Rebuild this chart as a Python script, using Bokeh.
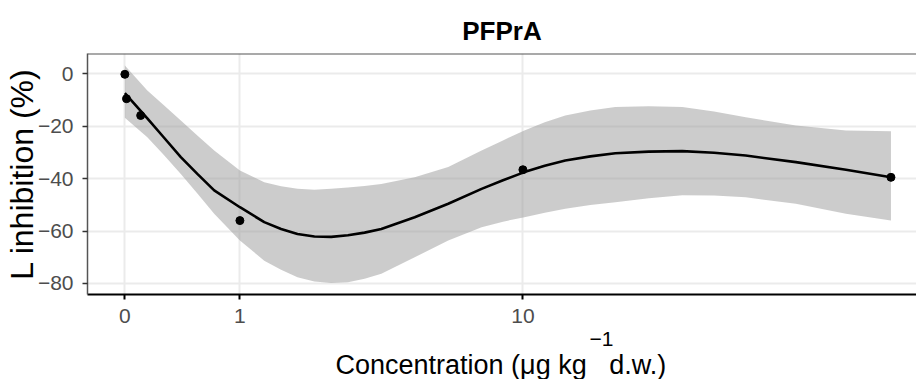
import numpy as np
from bokeh.plotting import figure
from bokeh.models import (ColumnDataSource, FixedTicker, CustomJSTickFormatter,
                          Span, Range1d, Title)
from bokeh.embed import file_html
from bokeh.resources import INLINE

# ---- data ----
point_conc = [0, 0.01, 0.1, 1, 10, 100]
point_inhib = [-0.2, -9.5, -15.9, -56.0, -36.6, -39.5]

curve_conc = [0, 0.145, 0.265, 0.401, 0.550, 0.713, 1.0, 1.316, 1.563, 1.829,
              2.133, 2.466, 2.834, 3.238, 3.688, 4.732, 6.015, 7.577, 8.757,
              10.10, 11.55, 13.20, 15.51, 18.20, 22.48, 27.73, 33.79, 41.10,
              55.97, 76.02, 100.0]
curve_fit = [-7.4, -17.0, -24.3, -31.8, -38.3, -44.5, -50.9, -56.6, -59.2, -61.1,
             -62.1, -62.2, -61.6, -60.6, -59.2, -54.7, -49.6, -43.9, -40.6,
             -37.5, -35.1, -33.1, -31.5, -30.3, -29.7, -29.5, -30.1, -31.2,
             -33.7, -36.6, -39.5]
curve_upper = [3.2, -6.4, -12.0, -17.8, -23.6, -29.3, -36.9, -41.4, -42.9, -43.9,
               -44.2, -43.9, -43.4, -42.8, -42.0, -39.5, -35.6, -29.3, -25.4,
               -21.6, -18.5, -15.9, -14.0, -12.7, -12.4, -12.7, -14.4, -16.6,
               -19.7, -21.6, -21.9]
curve_lower = [-16.8, -24.2, -31.0, -38.2, -45.8, -53.4, -63.6, -71.3, -74.8, -77.6,
               -79.2, -79.8, -79.5, -78.2, -76.3, -70.0, -63.6, -58.5, -56.4,
               -54.7, -53.0, -51.5, -50.1, -49.0, -47.5, -46.3, -46.4, -47.1,
               -49.6, -53.4, -56.0]

x_tick_values = [0, 1, 10]
y_tick_values = [0, -20, -40, -60, -80]

title_text = "PFPrA"
y_label = "L inhibition (%)"
x_label_main = "Concentration (\u03bcg kg\u00a0\u00a0\u00a0d.w.)"
x_label_sup = "\u22121"

FONT = "Liberation Sans"

curve_src = ColumnDataSource(dict(
    x=np.log1p(np.array(curve_conc)), fit=curve_fit,
    up=curve_upper, lo=curve_lower))
pt_src = ColumnDataSource(dict(x=np.log1p(np.array(point_conc)), y=point_inhib))

y_end = 7.745
p = figure(width=916, height=379, output_backend="svg", toolbar_location=None,
           x_range=Range1d(-0.225, 4.769), y_range=Range1d(-84.2, y_end),
           min_border_left=87, min_border_top=53, min_border_bottom=85,
           min_border_right=0)
p.outline_line_color = None
p.background_fill_color = "white"
p.border_fill_color = "white"

p.varea(x="x", y1="lo", y2="up", source=curve_src, fill_color="#999999",
        fill_alpha=0.5)
p.line(x="x", y="fit", source=curve_src, line_color="black", line_width=2.6)
p.scatter(x="x", y="y", source=pt_src, size=8, fill_color="black",
          line_color="black")

# grid
for g in (p.xgrid, p.ygrid):
    g.grid_line_color = "#EBEBEB"
    g.grid_line_width = 2
    g.level = "underlay"

# axes
p.xaxis.ticker = FixedTicker(ticks=list(np.log1p(np.array(x_tick_values, dtype=float))))
p.xaxis.formatter = CustomJSTickFormatter(code="return String(Math.round(Math.expm1(tick)));")
p.yaxis.ticker = FixedTicker(ticks=y_tick_values)
p.yaxis.formatter = CustomJSTickFormatter(
    code="return tick < 0 ? '\\u2212' + String(Math.abs(tick)) : String(tick);")

for ax in (p.xaxis, p.yaxis):
    ax.major_label_text_font = FONT
    ax.major_label_text_font_size = "21px"
    ax.major_label_text_color = "#4D4D4D"
    ax.minor_tick_line_color = None
    ax.major_tick_in = 0
    ax.major_tick_out = 5

p.xaxis.axis_line_color = "black"
p.xaxis.axis_line_width = 2
p.xaxis.major_tick_line_color = "black"
p.xaxis.major_tick_line_width = 2
p.xaxis.major_label_standoff = 9

p.yaxis.axis_line_color = "#555555"
p.yaxis.axis_line_width = 1.5
p.yaxis.major_tick_line_color = "#333333"
p.yaxis.major_tick_line_width = 1.5
p.yaxis.major_label_standoff = 9
p.yaxis.axis_label = y_label
p.yaxis.axis_label_text_font = FONT
p.yaxis.axis_label_text_font_size = "32px"
p.yaxis.axis_label_text_font_style = "normal"
p.yaxis.axis_label_text_color = "black"
p.yaxis.axis_label_standoff = -5

# top border
p.add_layout(Span(location=y_end, dimension="width", line_color="#555555",
                  line_width=2))

# title
p.title.text = title_text
p.title.align = "center"
p.title.offset = 14
p.title.text_font = FONT
p.title.text_font_size = "26px"
p.title.text_font_style = "bold"
p.title.text_color = "black"
p.title.standoff = 16

# x axis label: superscript row, then main row (overlapping)
p.add_layout(Title(text=x_label_sup, align="left", offset=502, standoff=8,
                   text_font=FONT, text_font_size="21px", text_font_style="normal",
                   text_color="black"), "below")
p.add_layout(Title(text=x_label_main, align="left", offset=248, standoff=-3,
                   text_font=FONT, text_font_size="27px", text_font_style="normal",
                   text_color="black"), "below")

open("out.html", "w").write(file_html(p, INLINE))
